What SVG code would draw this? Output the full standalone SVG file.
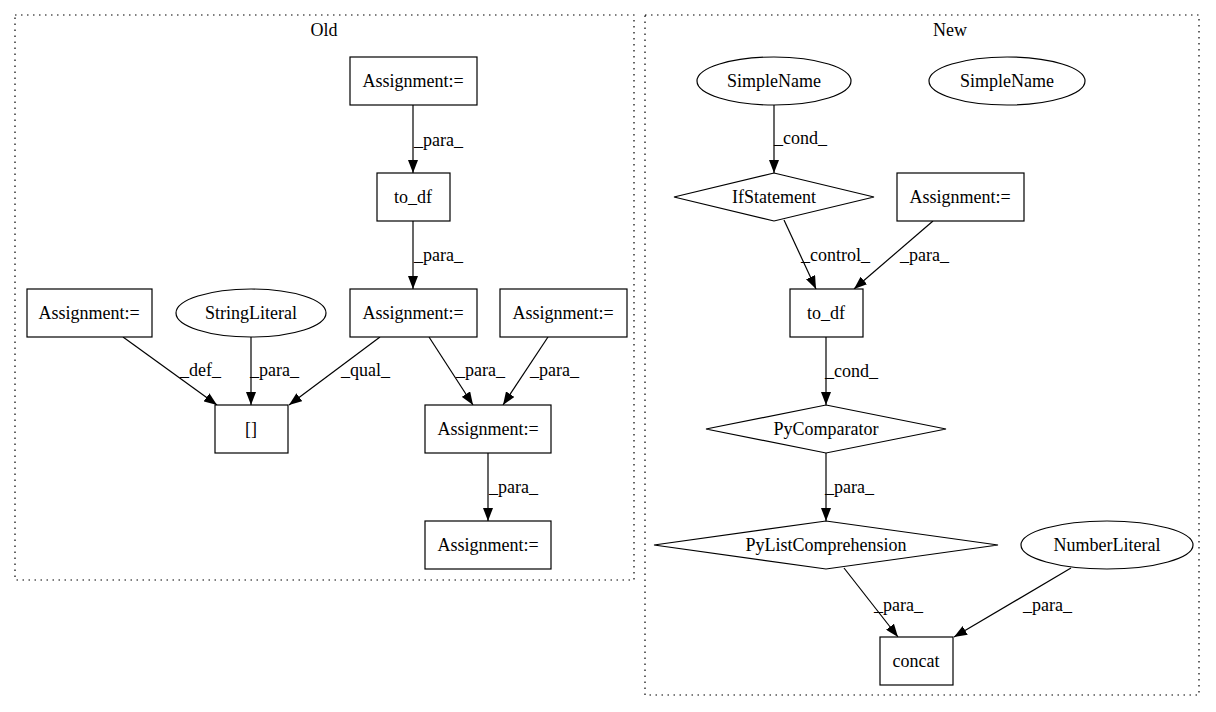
<svg xmlns="http://www.w3.org/2000/svg" width="1216" height="712" viewBox="0 0 1216 712" font-family="'Liberation Serif', 'Times New Roman', serif">
<defs>
<marker id="arr" markerWidth="13" markerHeight="10" refX="13" refY="5" orient="auto" markerUnits="userSpaceOnUse"><path d="M0,0 L13,5 L0,10 z" fill="#000"/></marker>
<style>
.cl{fill:none;stroke:#000;stroke-width:1.2;stroke-dasharray:1.5,4.5}
.n{fill:#fff;stroke:#000;stroke-width:1.2}
text{font-family:"Liberation Serif","Times New Roman",serif;font-size:18px;fill:#000}
.c{text-anchor:middle}
.e{fill:none;stroke:#000;stroke-width:1.2;marker-end:url(#arr)}
</style>
</defs>
<rect width="1216" height="712" fill="#fff"/>
<g id="cluster_old"><rect class="cl" x="15" y="15" width="619" height="565"/><text class="c" x="324" y="36">Old</text></g>
<g id="cluster_new"><rect class="cl" x="645" y="15" width="554" height="680"/><text class="c" x="950" y="36">New</text></g>

<g id="connectors">
<path class="e" d="M413,105 L413,173"/>
<path class="e" d="M413,221 L413,289"/>
<path class="e" d="M123,337 L217,405"/>
<path class="e" d="M251,337 L251,405"/>
<path class="e" d="M380,337 L289,405"/>
<path class="e" d="M429,337 L473,405"/>
<path class="e" d="M548,337 L503,405"/>
<path class="e" d="M488,453 L488,521"/>
<path class="e" d="M774,105 L774,173"/>
<path class="e" d="M784,220 L816,289"/>
<path class="e" d="M933,221 L854,289"/>
<path class="e" d="M826,337 L826,405"/>
<path class="e" d="M826,453 L826,521"/>
<path class="e" d="M844,568 L898,637"/>
<path class="e" d="M1071,568 L954,637"/>
<text x="414" y="146">_para_</text>
<text x="414" y="261">_para_</text>
<text x="180" y="376">_def_</text>
<text x="250" y="376">_para_</text>
<text x="341" y="376">_qual_</text>
<text x="456" y="376">_para_</text>
<text x="530" y="376">_para_</text>
<text x="489" y="493">_para_</text>
<text x="774" y="144">_cond_</text>
<text x="801" y="261">_control_</text>
<text x="900" y="261">_para_</text>
<text x="825" y="377">_cond_</text>
<text x="825" y="493">_para_</text>
<text x="874" y="611">_para_</text>
<text x="1023" y="611">_para_</text>
</g>

<g id="old_assign_top"><rect class="n" x="350" y="57" width="127" height="48"/><text class="c" x="413" y="87">Assignment:=</text></g>
<g id="old_to_df"><rect class="n" x="377" y="173" width="73" height="48"/><text class="c" x="413" y="203">to_df</text></g>
<g id="old_assign_left"><rect class="n" x="27" y="289" width="125" height="48"/><text class="c" x="89" y="319">Assignment:=</text></g>
<g id="old_stringliteral"><ellipse class="n" cx="251" cy="313" rx="75" ry="24"/><text class="c" x="251" y="319">StringLiteral</text></g>
<g id="old_assign_mid"><rect class="n" x="350" y="289" width="127" height="48"/><text class="c" x="413" y="319">Assignment:=</text></g>
<g id="old_assign_right"><rect class="n" x="500" y="289" width="127" height="48"/><text class="c" x="563" y="319">Assignment:=</text></g>
<g id="old_index"><rect class="n" x="215" y="405" width="73" height="48"/><text class="c" x="251" y="435">[]</text></g>
<g id="old_assign_lower"><rect class="n" x="425" y="405" width="126" height="48"/><text class="c" x="488" y="435">Assignment:=</text></g>
<g id="old_assign_bottom"><rect class="n" x="425" y="521" width="126" height="48"/><text class="c" x="488" y="551">Assignment:=</text></g>

<g id="new_simplename1"><ellipse class="n" cx="774" cy="81" rx="77" ry="24"/><text class="c" x="774" y="87">SimpleName</text></g>
<g id="new_simplename2"><ellipse class="n" cx="1007" cy="81" rx="78" ry="24"/><text class="c" x="1007" y="87">SimpleName</text></g>
<g id="new_ifstatement"><polygon class="n" points="774,173 874,197 774,221 674,197"/><text class="c" x="774" y="203">IfStatement</text></g>
<g id="new_assign"><rect class="n" x="897" y="173" width="127" height="48"/><text class="c" x="960" y="203">Assignment:=</text></g>
<g id="new_to_df"><rect class="n" x="790" y="289" width="73" height="48"/><text class="c" x="826" y="319">to_df</text></g>
<g id="new_pycomparator"><polygon class="n" points="826,405 946,429 826,453 706,429"/><text class="c" x="826" y="435">PyComparator</text></g>
<g id="new_pylistcomp"><polygon class="n" points="826,521 998,545 826,569 654,545"/><text class="c" x="826" y="551">PyListComprehension</text></g>
<g id="new_numberliteral"><ellipse class="n" cx="1107" cy="545" rx="86" ry="24"/><text class="c" x="1107" y="551">NumberLiteral</text></g>
<g id="new_concat"><rect class="n" x="880" y="637" width="73" height="48"/><text class="c" x="916" y="667">concat</text></g>
</svg>
